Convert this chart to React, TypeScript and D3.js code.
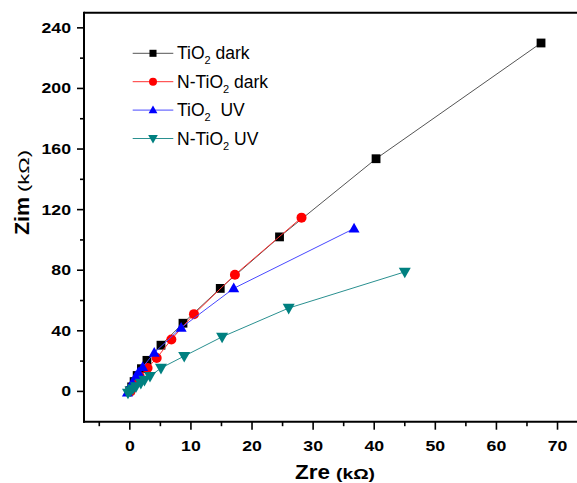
import React from 'react';
import * as d3 from 'd3';

const xTicks = [0, 10, 20, 30, 40, 50, 60, 70];
const xMinor = [-5, 5, 15, 25, 35, 45, 55, 65];
const yTicks = [0, 40, 80, 120, 160, 200, 240];
const yMinor = [20, 60, 100, 140, 180, 220];

const tio2Dark: [number, number][] = [[0, 0.5], [0.3, 3], [0.7, 6.5], [1.2, 10.5], [1.9, 15], [2.8, 20.5], [5.1, 30.5], [8.7, 45], [14.8, 68], [24.5, 102], [40.3, 153.6], [67.3, 230]];
const nTio2Dark: [number, number][] = [[0.1, 0], [0.4, 2.5], [0.9, 5.5], [1.6, 10], [2.9, 15.5], [4.4, 22], [6.8, 34.3], [10.5, 51], [17.2, 77], [28.1, 114.7]];
const tio2UV: [number, number][] = [[-0.4, -0.8], [0, 2.5], [0.4, 5.5], [1.0, 10], [1.4, 12.5], [2.1, 16], [4.0, 25.5], [8.4, 42], [17, 68], [36.7, 107.5]];
const nTio2UV: [number, number][] = [[-0.3, -1], [0.1, 0.5], [0.5, 1.8], [1.0, 3.2], [1.8, 5.5], [2.4, 7.5], [3.3, 10], [5.1, 15.4], [8.9, 23.3], [15.1, 36], [26, 55], [45, 78.9]];

const seriesNames = ['TiO2 dark', 'N-TiO2 dark', 'TiO2\u00a0 UV', 'N-TiO2 UV'];

const W = 577, H = 483;
const x = d3.scaleLinear().domain([-7.5, 75]).range([84, 84 + 82.5 * 6.11]);
const y = d3.scaleLinear().domain([-20, 250]).range([421.7, 12.7]);

type Shape = 'square' | 'circle' | 'up' | 'down';
const series: { name: string; data: [number, number][]; color: string; line: string; shape: Shape; size: number }[] = [
  { name: seriesNames[0], data: tio2Dark, color: '#000000', line: '#555555', shape: 'square', size: 8.8 },
  { name: seriesNames[1], data: nTio2Dark, color: '#ff0000', line: '#ff3030', shape: 'circle', size: 10 },
  { name: seriesNames[2], data: tio2UV, color: '#0000ff', line: '#4848ff', shape: 'up', size: 11 },
  { name: seriesNames[3], data: nTio2UV, color: '#008080', line: '#2a9090', shape: 'down', size: 12 },
];

function Marker({ shape, cx, cy, s, color }: { shape: Shape; cx: number; cy: number; s: number; color: string }) {
  if (shape === 'square') return <rect x={cx - s / 2} y={cy - s / 2} width={s} height={s} fill={color} />;
  if (shape === 'circle') return <circle cx={cx} cy={cy} r={s / 2} fill={color} />;
  const h = s * 0.88;
  if (shape === 'up')
    return <path d={`M${cx},${cy - h * 0.6} L${cx + s / 2},${cy + h * 0.4} L${cx - s / 2},${cy + h * 0.4} Z`} fill={color} />;
  return <path d={`M${cx},${cy + h * 0.6} L${cx + s / 2},${cy - h * 0.4} L${cx - s / 2},${cy - h * 0.4} Z`} fill={color} />;
}

function LegendLabel({ name }: { name: string }) {
  const idx = name.indexOf('2');
  return (
    <>
      {name.slice(0, idx)}
      <tspan fontSize={11} dy={5}>2</tspan>
      <tspan dy={-5}>{name.slice(idx + 1)}</tspan>
    </>
  );
}

export default function App() {
  const line = d3.line<[number, number]>().x(d => x(d[0])).y(d => y(d[1]));
  const x0 = 84, yb = 421.7;
  const tickFont = { fontFamily: 'Liberation Sans, Arial, sans-serif', fontWeight: 700, fontSize: 14.5 };
  return (
    <svg width={W} height={H} style={{ position: 'absolute', left: 0, top: 0, background: '#fff' }}>
      <rect width={W} height={H} fill="#fff" />
      {/* axes frame */}
      <line x1={x0} y1={12.7} x2={W + 5} y2={12.7} stroke="#000" strokeWidth={2} />
      <line x1={x0} y1={11.7} x2={x0} y2={yb + 1} stroke="#000" strokeWidth={2} />
      <line x1={x0 - 1} y1={yb} x2={W + 5} y2={yb} stroke="#000" strokeWidth={2} />
      {xTicks.map(t => (
        <g key={'xt' + t}>
          <line x1={x(t)} x2={x(t)} y1={yb} y2={yb + 8} stroke="#000" strokeWidth={1.6} />
          <g transform={`translate(${x(t)},450.5) scale(1.22,1)`}>
            <text textAnchor="middle" {...tickFont}>{t}</text>
          </g>
        </g>
      ))}
      {xMinor.map(t => (
        <line key={'xm' + t} x1={x(t)} x2={x(t)} y1={yb} y2={yb + 4.5} stroke="#000" strokeWidth={1.6} />
      ))}
      {yTicks.map(t => (
        <g key={'yt' + t}>
          <line x1={x0 - 7} x2={x0} y1={y(t)} y2={y(t)} stroke="#000" strokeWidth={1.6} />
          <g transform={`translate(71,${y(t) + 5}) scale(1.22,1)`}>
            <text textAnchor="end" {...tickFont}>{t}</text>
          </g>
        </g>
      ))}
      {yMinor.map(t => (
        <line key={'ym' + t} x1={x0 - 4} x2={x0} y1={y(t)} y2={y(t)} stroke="#000" strokeWidth={1.6} />
      ))}
      {/* series */}
      {series.map(s => (
        <g key={s.name}>
          <path d={line(s.data) || ''} fill="none" stroke={s.line} strokeWidth={1} />
          {s.data.map((d, i) => (
            <Marker key={i} shape={s.shape} cx={x(d[0])} cy={y(d[1])} s={s.size} color={s.color} />
          ))}
        </g>
      ))}
      {/* legend */}
      {series.map((s, i) => {
        const cy = 53.3 + i * 28.4;
        return (
          <g key={'lg' + i}>
            <line x1={132.7} x2={173.3} y1={cy} y2={cy} stroke={s.line} strokeWidth={1} />
            <Marker shape={s.shape} cx={153} cy={cy} s={s.size * 0.8} color={s.color} />
            <text x={177} y={cy + 6} fontFamily="Liberation Sans, Arial, sans-serif" fontSize={17.5} style={{ whiteSpace: 'pre' }}>
              <LegendLabel name={s.name} />
            </text>
          </g>
        );
      })}
      {/* axis titles */}
      <text x={295} y={479} fontFamily="Liberation Sans, Arial, sans-serif" fontWeight={700}>
        <tspan fontSize={20} textLength={35} lengthAdjust="spacingAndGlyphs">Zre</tspan>
        <tspan x={336} fontSize={15} textLength={39} lengthAdjust="spacingAndGlyphs">(kΩ)</tspan>
      </text>
      <g transform="translate(29,235) rotate(-90)">
        <text x={0} y={0} fontFamily="Liberation Sans, Arial, sans-serif" fontWeight={700}>
          <tspan fontSize={21} textLength={38} lengthAdjust="spacingAndGlyphs">Zim</tspan>
          <tspan x={43} fontSize={15} fontWeight={400} textLength={42} lengthAdjust="spacingAndGlyphs">(kΩ)</tspan>
        </text>
      </g>
    </svg>
  );
}
